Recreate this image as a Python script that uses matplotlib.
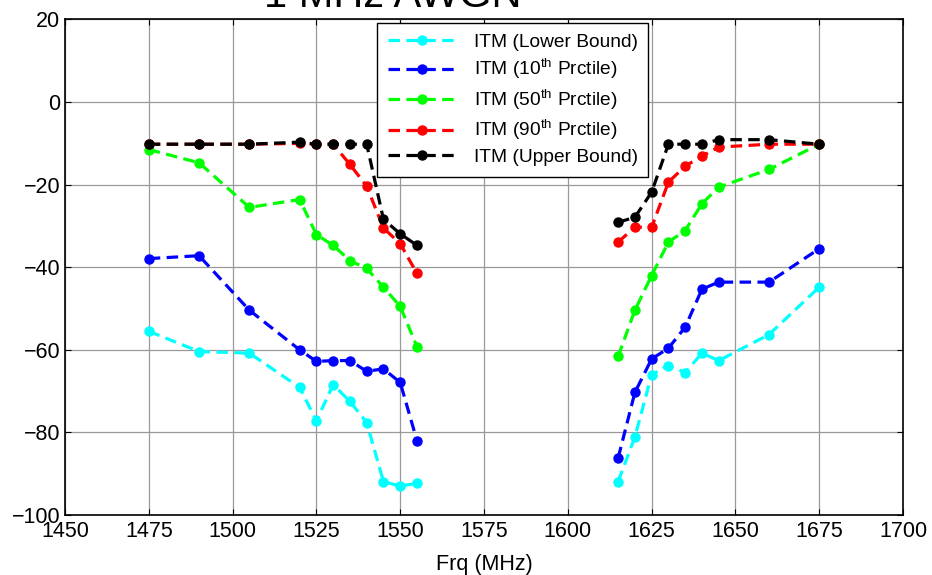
import numpy as np
import matplotlib
matplotlib.use('Agg')
import matplotlib.pyplot as plt

plt.rcParams['font.family'] = ['Liberation Sans', 'DejaVu Sans']
plt.rcParams['mathtext.fontset'] = 'custom'
plt.rcParams['mathtext.rm'] = 'Liberation Sans'
plt.rcParams['mathtext.it'] = 'Liberation Sans:italic'

# frequencies (MHz), lower and upper bands
freq_lo = [1475, 1490, 1505, 1520, 1525, 1530, 1535, 1540, 1545, 1550, 1555]
freq_hi = [1615, 1620, 1625, 1630, 1635, 1640, 1645, 1660, 1675]

lower_lo = [-55.5, -60.4, -60.8, -69.1, -77.2, -68.4, -72.5, -77.6, -91.9, -93.0, -92.3]
lower_hi = [-91.9, -81.1, -66.0, -63.8, -65.5, -60.8, -62.6, -56.3, -44.8]

p10_lo = [-37.9, -37.2, -50.4, -60.0, -62.8, -62.6, -62.6, -65.2, -64.6, -67.9, -82.0]
p10_hi = [-86.2, -70.3, -62.2, -59.6, -54.5, -45.3, -43.6, -43.6, -35.5]

p50_lo = [-11.5, -14.7, -25.5, -23.6, -32.1, -34.7, -38.4, -40.3, -44.8, -49.5, -59.2]
p50_hi = [-61.6, -50.4, -42.0, -33.9, -31.1, -24.6, -20.6, -16.3, -10.2]

p90_lo = [-10.2, -10.2, -10.2, -10.0, -10.2, -10.2, -15.1, -20.4, -30.5, -34.3, -41.5]
p90_hi = [-33.9, -30.3, -30.3, -19.4, -15.5, -13.1, -10.9, -10.2, -10.2]

upper_lo = [-10.2, -10.2, -10.2, -9.7, -10.2, -10.2, -10.2, -10.2, -28.4, -31.9, -34.7]
upper_hi = [-29.1, -27.9, -21.8, -10.2, -10.2, -10.2, -9.1, -9.1, -10.2]

labels = ['ITM (Lower Bound)',
          r'ITM (10$^{\mathrm{th}}$ Prctile)',
          r'ITM (50$^{\mathrm{th}}$ Prctile)',
          r'ITM (90$^{\mathrm{th}}$ Prctile)',
          'ITM (Upper Bound)']
colors = ['#00ffff', '#0000ff', '#00ff00', '#ff0000', '#000000']
series = [(lower_lo, lower_hi), (p10_lo, p10_hi), (p50_lo, p50_hi),
          (p90_lo, p90_hi), (upper_lo, upper_hi)]

fig = plt.figure(figsize=(9.32, 5.75), dpi=100)
ax = fig.add_axes([0.0697, 0.1043, 0.8993, 0.8618])

x_all = np.array(freq_lo + [np.nan] + freq_hi, dtype=float)
for (lo, hi), c, lab in zip(series, colors, labels):
    y_all = np.array(lo + [np.nan] + hi, dtype=float)
    ax.plot(x_all, y_all, linestyle='--', dashes=(3.6, 2.0), color=c, linewidth=2.3,
            marker='o', markersize=6.5, label=lab)

ax.set_xlim(1450, 1700)
ax.set_ylim(-100, 20)
ax.set_xticks(np.arange(1450, 1701, 25))
ax.set_yticks(np.arange(-100, 21, 20))
ax.tick_params(direction='in', length=4, labelsize=15.5, top=True, right=True)
ax.tick_params(axis='x', pad=4)
ax.grid(True, color='0.6', linewidth=0.9)
for s in ax.spines.values():
    s.set_linewidth(1.2)

ax.set_xlabel('Frq (MHz)', fontsize=15.5, labelpad=9)

leg = ax.legend(loc='upper left', bbox_to_anchor=(377 / 932, 1 - 23 / 575),
                bbox_transform=fig.transFigure, fontsize=13.8, frameon=True,
                fancybox=False, edgecolor='black', framealpha=1,
                handlelength=3.6, handletextpad=0.9, labelspacing=0.33,
                borderpad=0.55, borderaxespad=0)
leg.get_frame().set_linewidth(1.0)

fig.text(393 / 932, 1 - 7 / 575, '1 MHz AWGN', ha='center', va='baseline', fontsize=30)

fig.savefig('out.png', dpi=100)
